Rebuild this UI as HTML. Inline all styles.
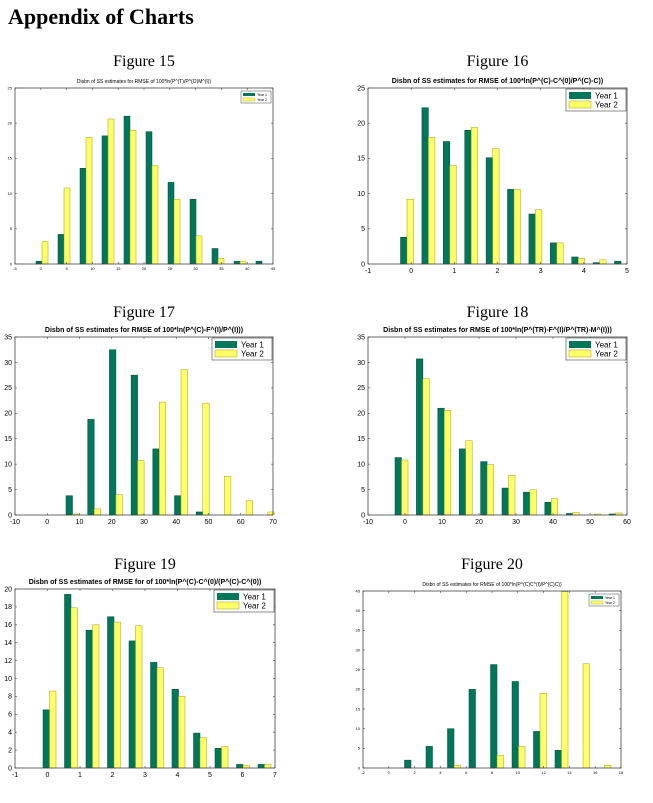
<!DOCTYPE html><html><head><style>
body{margin:0;background:#fff;width:653px;height:803px;overflow:hidden}
svg{position:absolute;left:0;top:0}
</style></head><body>
<svg id="s" width="653" height="803" xmlns="http://www.w3.org/2000/svg" font-family="Liberation Sans, sans-serif">
<text x="8" y="24" font-family="Liberation Serif, serif" font-weight="bold" font-size="22">Appendix of Charts</text>
</svg>
<script>
const s=document.getElementById('s');let h='';
const C=[
{fig:'Figure 15',fy:66,title:'Disbn of SS estimates for RMSE of 100*ln(P<sup>(·)</sup>/P<sup>(·)</sup>M<sup>(·)</sup>)',tt:'Disbn of SS estimates for RMSE of 100*ln(P^(T)/P^(O)M^(I))',ts:5,small:1,x0:15,x1:273,y0:88,y1:264,xmin:-5,xmax:45,xt:5,ymax:25,yt:5,c0:42,sp:22,bw:6,
 g:[0.4,4.2,13.6,18.2,21,18.8,11.6,9.2,2.2,0.4,0.4],y:[3.2,10.8,18,20.6,19,14,9.2,4,0.8,0.4,0]},
{fig:'Figure 16',fy:66,tt:'Disbn of SS estimates for RMSE of 100*ln(P^(C)-C^(0)/P^(C)-C))',ts:7,x0:368,x1:627,y0:88,y1:264,xmin:-1,xmax:5,xt:1,ymax:25,yt:5,c0:407,sp:21.4,bw:6.5,
 g:[3.8,22.2,17.4,19,15.1,10.6,7.1,3,1,0.2,0.4],y:[9.2,18,14,19.4,16.4,10.6,7.7,3,0.8,0.6,0]},
{fig:'Figure 17',fy:317,tt:'Disbn of SS estimates for RMSE of 100*ln(P^(C)-F^(I)/P^(I)))',ts:7,x0:15,x1:273,y0:337,y1:515,xmin:-10,xmax:70,xt:10,ymax:35,yt:5,c0:72.5,sp:21.7,bw:6.5,
 g:[3.8,18.8,32.5,27.5,13,3.8,0.6,0,0,0],y:[0.2,1.2,4,10.7,22.2,28.6,22,7.6,2.8,0.6]},
{fig:'Figure 18',fy:317,tt:'Disbn of SS estimates for RMSE of 100*ln(P^(TR)-F^(I)/P^(TR)-M^(I)))',ts:7,x0:368,x1:627,y0:337,y1:515,xmin:-10,xmax:60,xt:10,ymax:35,yt:5,c0:401.5,sp:21.4,bw:6.5,
 g:[11.3,30.7,21,13,10.5,5.3,4.5,2.5,0.3,0,0.2],y:[10.8,26.8,20.6,14.6,9.9,7.8,5,3.2,0.5,0.2,0.4]},
{fig:'Figure 19',fy:569,tt:'Disbn of SS estimates of RMSE for of 100*ln(P^(C)-C^(0)/(P^(C)-C^(0))',ts:7,x0:15,x1:275,y0:589,y1:768,xmin:-1,xmax:7,xt:1,ymax:20,yt:2,c0:49.5,sp:21.5,bw:6.5,
 g:[6.5,19.4,15.4,16.9,14.2,11.8,8.8,3.9,2.2,0.4,0.4],y:[8.6,17.9,16,16.3,15.9,11.2,8,3.4,2.4,0.3,0.4]},
{fig:'Figure 20',fy:569,tt:'Disbn of SS estimates for RMSE of 100*ln(P^(C)C^(I)/P^(C)C))',ts:5,small:1,x0:363,x1:621,y0:591,y1:768,xmin:-2,xmax:18,xt:2,ymax:45,yt:5,c0:411,sp:21.5,bw:6.5,
 g:[2,5.5,10,20,26.3,22,9.3,4.5,0,0],y:[0,0,0.7,0,3.2,5.5,19,44.8,26.5,0.7]}
];
const G='#00765a',Y='#ffff66';
for(const c of C){
 const cx=(c.x0+c.x1)/2, fs=c.small?4:7, W=c.x1-c.x0, H=c.y1-c.y0;
 h+=`<text x="${cx}" y="${c.fy}" text-anchor="middle" font-family="Liberation Serif, serif" font-size="16">${c.fig}</text>`;
 h+=`<text x="${cx}" y="${c.y0-5}" text-anchor="middle" font-size="${c.ts}" font-weight="${c.small?'normal':'bold'}">${c.tt}</text>`;
 const py=v=>c.y1-v/c.ymax*H;
 c.g.forEach((v,i)=>{const x=c.c0+i*c.sp;
  if(v>0)h+=`<rect x="${x-c.bw}" y="${py(v)}" width="${c.bw}" height="${v/c.ymax*H}" fill="${G}" stroke="#004a38" stroke-width="0.5"/>`;
  const w=c.y[i]; if(w>0)h+=`<rect x="${x}" y="${py(w)}" width="${c.bw}" height="${w/c.ymax*H}" fill="${Y}" stroke="#a0a020" stroke-width="0.5"/>`;});
 h+=`<rect x="${c.x0}" y="${c.y0}" width="${W}" height="${H}" fill="none" stroke="#444" stroke-width="0.8"/>`;
 for(let v=c.xmin;v<=c.xmax+1e-9;v+=c.xt){const x=c.x0+(v-c.xmin)/(c.xmax-c.xmin)*W;
  h+=`<line x1="${x}" y1="${c.y1}" x2="${x}" y2="${c.y1-2}" stroke="#444" stroke-width="0.6"/><line x1="${x}" y1="${c.y0}" x2="${x}" y2="${c.y0+2}" stroke="#444" stroke-width="0.6"/>`;
  h+=`<text x="${x}" y="${c.y1+fs+2}" text-anchor="middle" font-size="${fs}">${Math.round(v)}</text>`;}
 for(let v=0;v<=c.ymax+1e-9;v+=c.yt){const y=py(v);
  h+=`<line x1="${c.x0}" y1="${y}" x2="${c.x0+2}" y2="${y}" stroke="#444" stroke-width="0.6"/><line x1="${c.x1}" y1="${y}" x2="${c.x1-2}" y2="${y}" stroke="#444" stroke-width="0.6"/>`;
  h+=`<text x="${c.x0-3}" y="${y+fs/3}" text-anchor="end" font-size="${fs}">${v}</text>`;}
 if(c.small){const lx=c.x1-32,ly=c.y0+3;
  h+=`<rect x="${lx}" y="${ly}" width="30" height="12" fill="#fff" stroke="#444" stroke-width="0.5"/><rect x="${lx+2}" y="${ly+2}" width="12" height="3" fill="${G}"/><rect x="${lx+2}" y="${ly+7}" width="12" height="3" fill="${Y}" stroke="#a0a020" stroke-width="0.4"/><text x="${lx+16}" y="${ly+5}" font-size="3.5">Year 1</text><text x="${lx+16}" y="${ly+10}" font-size="3.5">Year 2</text>`;}
 else{const lx=c.x1-61,ly=c.y0+1;
  h+=`<rect x="${lx}" y="${ly}" width="60" height="22" fill="#fff" stroke="#444" stroke-width="0.6"/><rect x="${lx+3}" y="${ly+3}" width="22" height="7" fill="${G}"/><rect x="${lx+3}" y="${ly+12}" width="22" height="7" fill="${Y}" stroke="#a0a020" stroke-width="0.5"/><text x="${lx+29}" y="${ly+9.5}" font-size="8">Year 1</text><text x="${lx+29}" y="${ly+18.5}" font-size="8">Year 2</text>`;}
}
s.insertAdjacentHTML('beforeend',h);
</script>
</body></html>
